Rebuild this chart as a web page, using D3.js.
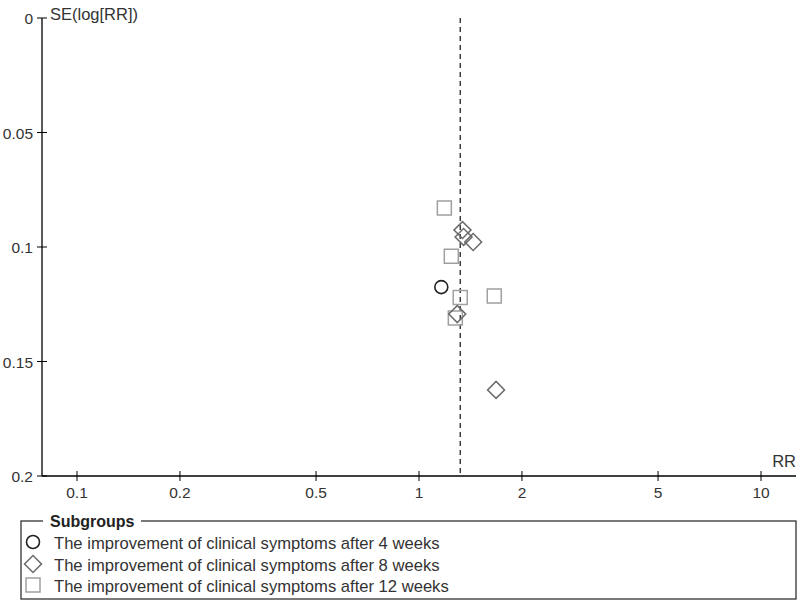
<!DOCTYPE html>
<html><head><meta charset="utf-8">
<script src="https://cdn.jsdelivr.net/npm/d3@7"></script>
<style>body{margin:0;background:#fff}svg{display:block}text{font-family:"Liberation Sans",Arial,sans-serif}</style>
</head><body><svg id="c" width="800" height="604"></svg>
<script>
const xTicks = [0.1, 0.2, 0.5, 1, 2, 5, 10];
const xTickLabels = ["0.1", "0.2", "0.5", "1", "2", "5", "10"];
const yTicks = [0, 0.05, 0.1, 0.15, 0.2];
const yTickLabels = ["0", "0.05", "0.1", "0.15", "0.2"];
const pooledRR = 1.32;
const subgroups = ["The improvement of clinical symptoms after 4 weeks", "The improvement of clinical symptoms after 8 weeks", "The improvement of clinical symptoms after 12 weeks"];
const week4RR = [1.162];
const week4SE = [0.1175];
const week8RR = [1.34, 1.35, 1.44, 1.294, 1.68];
const week8SE = [0.0926, 0.0956, 0.0978, 0.1293, 0.1624];
const week12RR = [1.186, 1.243, 1.32, 1.66, 1.277];
const week12SE = [0.083, 0.104, 0.122, 0.1214, 0.131];

const svg = d3.select("#c");
const x = d3.scaleLog().domain([0.1, 10]).range([77, 761]);
const y = d3.scaleLinear().domain([0, 0.2]).range([18, 476]);
const axisLeftX = 42, axisRight = 796;

svg.append("line").attr("x1", axisLeftX).attr("x2", axisLeftX).attr("y1", y(0)).attr("y2", y(0.2)).attr("stroke", "#000").attr("stroke-width", 1.3);
svg.append("line").attr("x1", axisLeftX).attr("x2", axisRight).attr("y1", y(0.2)).attr("y2", y(0.2)).attr("stroke", "#000").attr("stroke-width", 1.3);

xTicks.forEach((t, i) => {
  svg.append("line").attr("x1", x(t)).attr("x2", x(t)).attr("y1", y(0.2) - 5).attr("y2", y(0.2) + 5).attr("stroke", "#000");
  svg.append("text").attr("x", x(t)).attr("y", y(0.2) + 22).attr("text-anchor", "middle").attr("font-size", 15.5).attr("fill", "#333").text(xTickLabels[i]);
});
yTicks.forEach((t, i) => {
  svg.append("line").attr("x1", axisLeftX - 5).attr("x2", axisLeftX + 5).attr("y1", y(t)).attr("y2", y(t)).attr("stroke", "#000");
  svg.append("text").attr("x", axisLeftX - 9).attr("y", y(t) + 6).attr("text-anchor", "end").attr("font-size", 15.5).attr("fill", "#333").text(yTickLabels[i]);
});
svg.append("text").attr("x", 50).attr("y", 20).attr("font-size", 16.5).attr("fill", "#333").text("SE(log[RR])");
svg.append("text").attr("x", 796).attr("y", 467).attr("text-anchor", "end").attr("font-size", 16.5).attr("fill", "#333").text("RR");

svg.append("line").attr("x1", x(pooledRR)).attr("x2", x(pooledRR)).attr("y1", y(0)).attr("y2", y(0.2))
  .attr("stroke", "#222").attr("stroke-width", 1.3).attr("stroke-dasharray", "5,4");

const sq = d3.symbol().type(d3.symbolSquare).size(196);
const di = d3.symbol().type(d3.symbolSquare).size(144);
svg.append("g").selectAll("path").data(week12RR.map((r, i) => [r, week12SE[i]])).join("path")
  .attr("d", sq).attr("transform", d => `translate(${x(d[0])},${y(d[1])})`)
  .attr("fill", "none").attr("stroke", "#a0a0a0").attr("stroke-width", 1.5);
svg.append("g").selectAll("path").data(week8RR.map((r, i) => [r, week8SE[i]])).join("path")
  .attr("d", di).attr("transform", d => `translate(${x(d[0])},${y(d[1])}) rotate(45)`)
  .attr("fill", "none").attr("stroke", "#6a6a6a").attr("stroke-width", 1.5);
svg.append("g").selectAll("circle").data(week4RR.map((r, i) => [r, week4SE[i]])).join("circle")
  .attr("cx", d => x(d[0])).attr("cy", d => y(d[1])).attr("r", 6.5)
  .attr("fill", "none").attr("stroke", "#222").attr("stroke-width", 1.6);

const lg = svg.append("g");
lg.append("rect").attr("x", 21).attr("y", 521).attr("width", 775).attr("height", 78).attr("fill", "none").attr("stroke", "#222").attr("stroke-width", 1.2);
lg.append("rect").attr("x", 43).attr("y", 512).attr("width", 98).attr("height", 18).attr("fill", "#fff");
lg.append("text").attr("x", 50).attr("y", 527).attr("font-size", 16).attr("font-weight", "bold").attr("fill", "#222").text("Subgroups");
const ly = [543, 565, 586];
lg.append("circle").attr("cx", 33).attr("cy", ly[0] - 1).attr("r", 6.5).attr("fill", "none").attr("stroke", "#222").attr("stroke-width", 1.6);
lg.append("path").attr("d", di).attr("transform", `translate(33,${ly[1] - 1}) rotate(45)`).attr("fill", "none").attr("stroke", "#6a6a6a").attr("stroke-width", 1.5);
lg.append("path").attr("d", sq).attr("transform", `translate(33,${ly[2] - 1})`).attr("fill", "none").attr("stroke", "#a0a0a0").attr("stroke-width", 1.5);
subgroups.forEach((s, i) => {
  lg.append("text").attr("x", 54).attr("y", ly[i] + 6).attr("font-size", 16.6).attr("fill", "#333").text(s);
});
</script></body></html>
